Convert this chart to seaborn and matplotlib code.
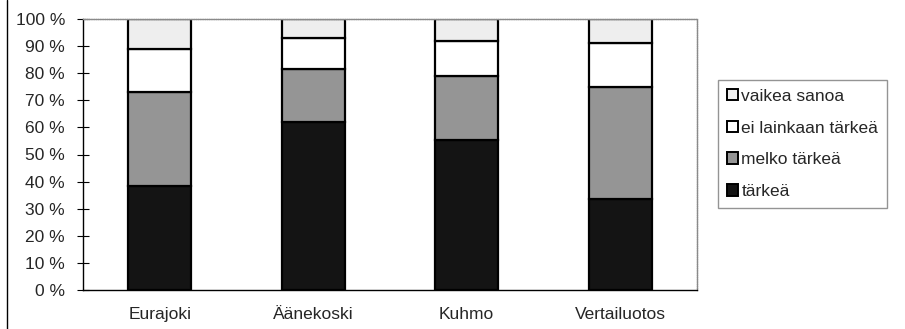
import seaborn as sns
import matplotlib.pyplot as plt
import pandas as pd
import numpy as np
from matplotlib.lines import Line2D
from matplotlib.patches import Patch

# Categories and shares (%)
places = ["Eurajoki", "Äänekoski", "Kuhmo", "Vertailuotos"]
tarkea = [38.5, 62.0, 55.5, 33.5]
melko_tarkea = [34.5, 19.5, 23.5, 41.5]
ei_lainkaan = [16.0, 11.5, 13.0, 16.0]
vaikea_sanoa = [11.0, 7.0, 8.0, 9.0]

series = ["tärkeä", "melko tärkeä", "ei lainkaan tärkeä", "vaikea sanoa"]
values = [tarkea, melko_tarkea, ei_lainkaan, vaikea_sanoa]
colors = ["#141414", "#959595", "#ffffff", "#eeeeee"]

df = pd.concat(
    [pd.DataFrame({"Paikka": places, "Osuus": v, "Vastaus": s}) for s, v in zip(series, values)]
)

sns.set_style("white")
plt.rcParams["font.family"] = ["Liberation Sans", "DejaVu Sans"]
fs = 12.5

fig = plt.figure(figsize=(9.05, 3.29), dpi=100)
ax = fig.add_axes([83 / 905, 1 - 290 / 329, (697 - 83) / 905, (290 - 19) / 329])

# Stacked bars: each series drawn on top of the previous ones
bottom = np.zeros(len(places))
for s, c in zip(series, colors):
    part = df[df["Vastaus"] == s]
    sns.barplot(
        data=part, x="Paikka", y="Osuus", order=places, color=c,
        width=0.41, bottom=bottom, edgecolor="black", linewidth=1.6,
        saturation=1, ax=ax, errorbar=None,
    )
    bottom = bottom + part["Osuus"].to_numpy()

ax.set_xlim(-0.5, len(places) - 0.5)
ax.set_ylim(0, 100)
ax.set_yticks(np.arange(0, 101, 10))
ax.set_yticklabels([f"{t} %" for t in range(0, 101, 10)])
ax.set_xlabel("")
ax.set_ylabel("")

# Category tick marks sit between the bars
ax.set_xticks(np.arange(-0.5, len(places), 1), minor=True)
ax.tick_params(axis="x", which="major", length=0, pad=12.5, labelsize=fs)
ax.tick_params(axis="x", which="minor", direction="inout", length=9, width=0.8, color="black")
ax.tick_params(axis="y", direction="inout", length=9, width=0.8, color="black", pad=8.5, labelsize=fs, left=True)

for side in ["top", "right"]:
    ax.spines[side].set_color("#8a8a8a")
    ax.spines[side].set_linewidth(1.0)
    ax.spines[side].set_linestyle((0, (1, 0.6)))
for side in ["left", "bottom"]:
    ax.spines[side].set_color("black")
    ax.spines[side].set_linewidth(1.0)

# Legend, top-to-bottom in reverse stacking order
handles = [Patch(facecolor=c, edgecolor="black", linewidth=1.4) for c in colors][::-1]
leg = fig.legend(
    handles, series[::-1], loc="upper left",
    bbox_to_anchor=(718 / 905, 1 - 80 / 329), bbox_transform=fig.transFigure,
    borderaxespad=0, frameon=True, fancybox=False, fontsize=fs,
    handlelength=0.65, handleheight=0.65, handletextpad=0.2,
    labelspacing=0.97, borderpad=0.5,
)
leg.get_frame().set_edgecolor("#7a7a7a")
leg.get_frame().set_linewidth(1.0)

# Left edge of the outer chart frame
fig.add_artist(Line2D([7 / 905, 7 / 905], [0, 1], transform=fig.transFigure, color="black", linewidth=1.0))

plt.savefig("out.png", dpi=100)
